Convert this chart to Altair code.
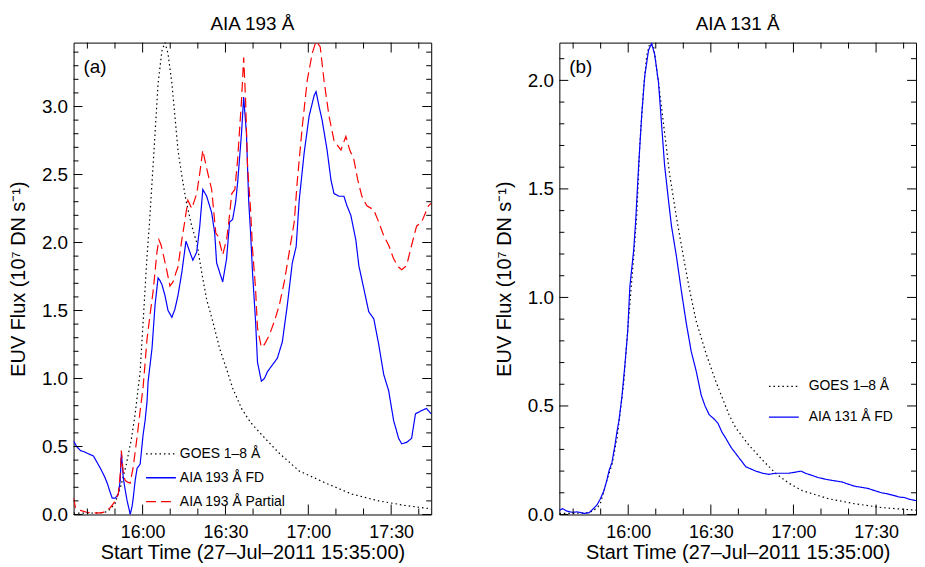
import altair as alt
import pandas as pd

FONT = "Liberation Sans"

# ---------------- Panel (a): AIA 193 Å  (time in minutes after 15:35:00) ----------------
goes_a_t = [0, 5, 10, 12, 13.3, 15, 17, 19, 20.9, 22.3, 24.1, 25.2, 26.6, 27.5, 28.4, 29.5, 30.6, 32.0, 33.1,
            34.2, 35.6, 36.7, 37.8, 39.2, 40.7, 42.8, 44.6, 46.4, 48.2, 50.4, 52.9, 55.4, 57.6, 60.8, 63.0,
            64.8, 69.8, 74.5, 81.7, 91.4, 100.8, 110.5, 120.2, 128.5, 129.5]
goes_a_v = [0.01, 0.01, 0.012, 0.02, 0.04, 0.08, 0.20, 0.36, 0.55, 0.74, 1.05, 1.42, 1.90, 2.15, 2.44, 2.80, 3.17,
            3.41, 3.47, 3.39, 3.17, 2.93, 2.68, 2.49, 2.31, 2.12, 2.00, 1.78, 1.58, 1.42, 1.22, 1.07, 0.93, 0.78,
            0.71, 0.66, 0.55, 0.45, 0.32, 0.23, 0.15, 0.10, 0.066, 0.044, 0.04]

fd193_t = [0.0, 1.1, 2.5, 4.0, 5.0, 6.1, 7.2, 8.6, 9.7, 11.2, 12.2, 13.3, 14.0, 15.1, 16.2, 16.9, 17.3, 17.6, 18.0,
           18.7, 19.4, 20.2, 20.5, 21.2, 21.6, 22.3, 23.0, 24.1, 25.2, 25.9, 26.6, 27.0, 28.4, 29.5, 30.6, 31.3,
           32.0, 33.1, 34.2, 35.6, 36.7, 37.8, 39.2, 40.7, 42.1, 43.2, 44.6, 45.7, 46.8, 48.2, 50.0, 51.1, 51.8,
           52.9, 54.0, 55.4, 56.5, 57.6, 58.7, 59.4, 60.8, 61.6, 62.6, 63.4, 64.1, 64.8, 65.9, 66.6, 68.0, 69.1,
           70.2, 72.0, 73.8, 75.6, 77.4, 79.2, 80.6, 81.7, 83.5, 85.3, 87.1, 87.8, 88.9, 90.0, 91.8, 93.2, 94.3,
           96.1, 97.9, 99.0, 100.4, 102.2, 103.3, 105.1, 106.9, 108.7, 110.5, 112.3, 114.1, 115.9, 117.7, 118.8,
           120.6, 122.4, 123.8, 125.6, 127.8, 129.5]
fd193_v = [0.54, 0.50, 0.47, 0.46, 0.45, 0.44, 0.43, 0.38, 0.34, 0.28, 0.23, 0.16, 0.12, 0.12, 0.15, 0.25, 0.45,
           0.38, 0.27, 0.18, 0.10, 0.03, 0.00, 0.06, 0.12, 0.25, 0.34, 0.37, 0.59, 0.69, 0.83, 0.98, 1.22, 1.54,
           1.74, 1.72, 1.69, 1.61, 1.50, 1.45, 1.51, 1.61, 1.78, 2.01, 1.93, 1.87, 1.93, 2.12, 2.39, 2.34, 2.22,
           2.07, 1.85, 1.78, 1.71, 1.88, 2.15, 2.17, 2.30, 2.44, 2.80, 3.07, 2.80, 2.31, 2.07, 1.78, 1.42, 1.12,
           0.98, 1.00, 1.05, 1.10, 1.15, 1.27, 1.54, 1.85, 1.97, 2.31, 2.66, 2.93, 3.08, 3.11, 3.00, 2.90, 2.68,
           2.46, 2.36, 2.34, 2.34, 2.27, 2.20, 2.02, 1.83, 1.66, 1.49, 1.44, 1.25, 1.03, 0.91, 0.69, 0.56, 0.52,
           0.53, 0.56, 0.74, 0.76, 0.78, 0.74]

part193_t = [0.0, 0.7, 2.5, 5.0, 8.6, 10.8, 13.3, 15.1, 16.2, 16.9, 17.3, 18.0, 18.7, 19.4, 20.5, 21.6, 23.0, 24.1,
             25.2, 26.6, 27.7, 28.8, 30.2, 30.9, 31.7, 32.4, 33.8, 34.9, 36.0, 37.1, 37.8, 39.2, 40.3, 41.4, 42.8,
             44.6, 45.7, 46.8, 47.5, 48.6, 50.0, 50.7, 51.5, 52.2, 52.9, 54.0, 55.4, 56.2, 57.3, 58.4, 59.4, 60.8,
             61.6, 62.3, 63.0, 64.1, 64.8, 65.9, 66.6, 68.0, 69.1, 70.9, 72.7, 74.5, 76.3, 78.1, 79.9, 81.0, 82.8,
             84.6, 86.4, 87.8, 89.3, 90.7, 92.5, 94.3, 96.8, 98.6, 100.0, 101.5, 102.9, 104.4, 106.2, 108.7, 110.5,
             112.3, 114.1, 115.9, 117.7, 118.8, 120.6, 122.4, 124.2, 126.0, 128.5, 129.5]
part193_v = [0.12, 0.05, 0.03, 0.015, 0.01, 0.015, 0.05, 0.10, 0.15, 0.30, 0.47, 0.30, 0.25, 0.24, 0.23, 0.35,
             0.57, 0.76, 0.94, 1.29, 1.47, 1.64, 1.93, 2.02, 1.98, 1.92, 1.79, 1.68, 1.71, 1.78, 1.82, 2.02, 2.16,
             2.31, 2.25, 2.36, 2.51, 2.68, 2.61, 2.51, 2.39, 2.24, 2.07, 2.05, 2.00, 1.91, 2.02, 2.15, 2.36, 2.39,
             2.61, 3.04, 3.36, 3.04, 2.56, 2.24, 1.95, 1.66, 1.37, 1.23, 1.25, 1.32, 1.42, 1.54, 1.71, 1.93, 2.15,
             2.45, 2.85, 3.19, 3.39, 3.48, 3.44, 3.19, 2.93, 2.75, 2.68, 2.78, 2.68, 2.61, 2.46, 2.34, 2.27, 2.24,
             2.15, 2.05, 1.98, 1.88, 1.82, 1.80, 1.83, 1.98, 2.12, 2.15, 2.27, 2.29]

# ---------------- Panel (b): AIA 131 Å ----------------
goes_b_t = [0, 5, 10, 12, 14, 15, 16, 17.3, 19.1, 20.9, 22.0, 23.4, 24.5, 25.6, 27.0, 28.1, 29.2, 30.6, 31.7, 32.8,
            34.2, 36.0, 38.2, 40.0, 42.5, 45.0, 47.2, 49.7, 53.3, 56.9, 59.4, 61.6, 64.0, 68.8, 73.8, 78.5, 83.2,
            88.2, 97.6, 107.0, 117.0, 126.0, 129.5]
goes_b_v = [0.005, 0.005, 0.008, 0.015, 0.035, 0.055, 0.10, 0.16, 0.23, 0.35, 0.46, 0.61, 0.80, 0.97, 1.19, 1.38,
            1.70, 1.97, 2.11, 2.17, 2.16, 1.99, 1.76, 1.57, 1.37, 1.19, 1.04, 0.89, 0.74, 0.61, 0.53, 0.46, 0.40,
            0.32, 0.25, 0.19, 0.145, 0.11, 0.073, 0.05, 0.032, 0.023, 0.02]

fd131_t = [0.0, 1.1, 2.9, 4.7, 6.5, 9.0, 10.8, 12.6, 13.7, 14.8, 16.2, 17.3, 18.0, 19.1, 20.2, 20.9, 21.6, 22.7,
           23.8, 24.8, 25.6, 27.0, 27.7, 28.8, 29.9, 31.0, 32.4, 33.5, 34.6, 36.0, 37.1, 38.2, 39.6, 40.7, 42.5,
           44.3, 46.1, 47.9, 49.7, 51.5, 52.9, 54.4, 56.2, 57.6, 59.0, 60.5, 62.3, 64.1, 65.9, 67.7, 69.5, 71.3,
           73.8, 76.0, 78.5, 81.0, 83.2, 85.7, 87.8, 89.3, 91.8, 94.0, 97.6, 100.1, 102.6, 104.8, 107.3, 109.8,
           112.0, 114.5, 117.0, 119.2, 121.7, 123.5, 125.3, 127.1, 129.5]
fd131_v = [0.018, 0.027, 0.015, 0.01, 0.012, 0.005, 0.008, 0.03, 0.045, 0.07, 0.11, 0.16, 0.20, 0.24, 0.32, 0.38,
           0.43, 0.54, 0.69, 0.84, 1.05, 1.22, 1.35, 1.61, 1.84, 2.02, 2.14, 2.17, 2.12, 1.99, 1.80, 1.61, 1.45,
           1.33, 1.19, 1.03, 0.88, 0.75, 0.66, 0.55, 0.50, 0.46, 0.44, 0.42, 0.38, 0.35, 0.31, 0.28, 0.25, 0.22,
           0.21, 0.20, 0.19, 0.185, 0.19, 0.19, 0.19, 0.195, 0.20, 0.19, 0.18, 0.17, 0.16, 0.155, 0.15, 0.14, 0.13,
           0.125, 0.12, 0.11, 0.10, 0.095, 0.087, 0.08, 0.078, 0.07, 0.064]

# ---------------- Axis ticks / labels ----------------
x_domain = [0, 129.5]
x_major = [25, 55, 85, 115]            # 16:00, 16:30, 17:00, 17:30
x_minor = [5, 15, 35, 45, 65, 75, 95, 105, 125]
ya_domain = [0, 3.47]
ya_major = [0.0, 0.5, 1.0, 1.5, 2.0, 2.5, 3.0]
ya_minor = [0.1, 0.2, 0.3, 0.4, 0.6, 0.7, 0.8, 0.9, 1.1, 1.2, 1.3, 1.4, 1.6, 1.7, 1.8, 1.9,
            2.1, 2.2, 2.3, 2.4, 2.6, 2.7, 2.8, 2.9, 3.1, 3.2, 3.3, 3.4]
yb_domain = [0, 2.174]
yb_major = [0.0, 0.5, 1.0, 1.5, 2.0]
yb_minor = [0.1, 0.2, 0.3, 0.4, 0.6, 0.7, 0.8, 0.9, 1.1, 1.2, 1.3, 1.4, 1.6, 1.7, 1.8, 1.9, 2.1]

names_a = ["GOES 1–8 Å", "AIA 193 Å FD", "AIA 193 Å Partial"]
names_b = ["GOES 1–8 Å", "AIA 131 Å FD"]

X_TITLE = "Start Time (27–Jul–2011 15:35:00)"
Y_TITLE = "EUV Flux (10⁷ DN s⁻¹)"
LABEL_EXPR = ("(15 + floor((datum.value + 35) / 60)) + ':' + "
              "(((datum.value + 35) % 60) < 10 ? '0' : '') + ((datum.value + 35) % 60)")


def panel(series, names, colors, dashes, ydom, ymaj, ymin, title, tag, W, H, leg):
    rows = []
    for name, ts, vs in series:
        for t, v in zip(ts, vs):
            rows.append({"series": name, "t": t, "v": v})
    df = pd.DataFrame(rows)
    xs = alt.Scale(domain=x_domain, nice=False, zero=False)
    ys = alt.Scale(domain=ydom, nice=False, zero=False)
    legend = alt.Legend(title=None, orient="none", legendX=leg[0], legendY=leg[1],
                        symbolType="stroke", symbolSize=900, symbolStrokeWidth=1.3,
                        labelFontSize=14, labelFont=FONT, labelColor="black", labelOffset=leg[3],
                        rowPadding=leg[2], padding=0, labelLimit=300)
    xaxis = alt.Axis(values=x_major, labelExpr=LABEL_EXPR, title=X_TITLE,
                     ticks=False, tickSize=0, domain=False, grid=False, labelFontSize=18,
                     labelPadding=9, titlePadding=17, titleBaseline="alphabetic")
    yaxis = alt.Axis(values=ymaj, format=".1f", title=Y_TITLE,
                     ticks=False, tickSize=0, domain=False, grid=False,
                     labelPadding=6, titlePadding=13)
    lines = alt.Chart(df).mark_line(strokeWidth=1.2, clip=True).encode(
        x=alt.X("t:Q", scale=xs, axis=xaxis),
        y=alt.Y("v:Q", scale=ys, axis=yaxis),
        color=alt.Color("series:N", scale=alt.Scale(domain=names, range=colors), legend=legend),
        strokeDash=alt.StrokeDash("series:N", scale=alt.Scale(domain=names, range=dashes), legend=legend),
    )

    def xt(vals, length, top):
        return alt.Chart(pd.DataFrame({"t": vals})).mark_rule(color="black", strokeWidth=1).encode(
            x=alt.X("t:Q", scale=xs, axis=xaxis),
            y=alt.value(0 if top else H), y2=alt.value(length if top else H - length))

    def yt(vals, length, right):
        return alt.Chart(pd.DataFrame({"v": vals})).mark_rule(color="black", strokeWidth=1).encode(
            y=alt.Y("v:Q", scale=ys, axis=yaxis),
            x=alt.value(W if right else 0), x2=alt.value(W - length if right else length))

    ticks = [xt(x_major, 10, False), xt(x_major, 10, True), xt(x_minor, 6, False), xt(x_minor, 6, True),
             yt(ymaj, 9, False), yt(ymaj, 9, True), yt(ymin, 5, False), yt(ymin, 5, True)]
    label = alt.Chart(pd.DataFrame({"s": [tag]})).mark_text(
        align="left", baseline="alphabetic", fontSize=19, font=FONT, color="black").encode(
        text="s:N", x=alt.value(10), y=alt.value(31))
    return alt.layer(lines, *ticks, label).properties(
        width=W, height=H,
        title=alt.Title(title, fontSize=19, font=FONT, fontWeight="normal", color="black",
                        baseline="alphabetic", offset=-7))


pa = panel([(names_a[0], goes_a_t, goes_a_v), (names_a[1], fd193_t, fd193_v), (names_a[2], part193_t, part193_v)],
           names_a, ["black", "#0000ff", "#ff0000"], [[1.5, 3], [1, 0], [10, 5]],
           ya_domain, ya_major, ya_minor, "AIA 193 Å", "(a)", 360, 475, (72, 398, 1, 3))
pb = panel([(names_b[0], goes_b_t, goes_b_v), (names_b[1], fd131_t, fd131_v)],
           names_b, ["black", "#0000ff"], [[1.5, 3], [1, 0]],
           yb_domain, yb_major, yb_minor, "AIA 131 Å", "(b)", 359, 475, (210, 330, 8, 9))

chart = alt.hconcat(pa, pb, spacing=129, bounds="flush").resolve_scale(
    x="independent", y="independent", color="independent", strokeDash="independent"
).properties(
    padding={"left": 0, "top": 5, "right": 0, "bottom": 0}
).configure_view(stroke="black", strokeWidth=1).configure_axis(
    labelFont=FONT, titleFont=FONT, labelFontSize=19, titleFontSize=20, labelColor="black",
    titleColor="black", titleFontWeight="normal"
)

chart.save("out.html", embed_options={"renderer": "svg", "actions": False})
